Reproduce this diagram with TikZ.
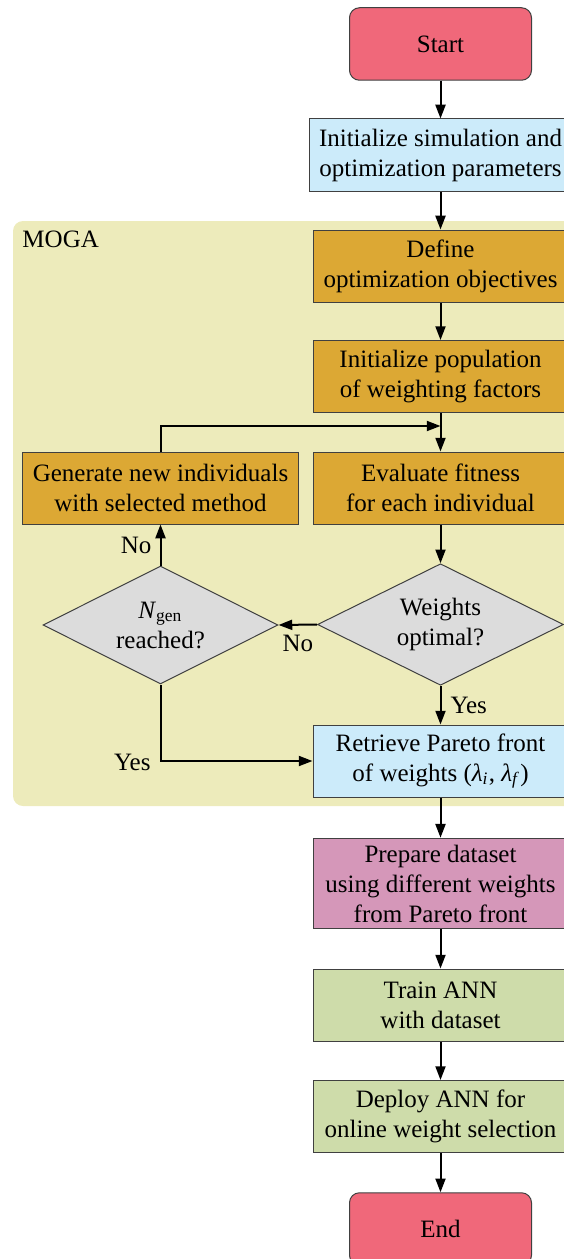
\documentclass[tikz,border=0pt]{standalone}
\usepackage{fontspec}
\setmainfont{Liberation Serif}
\usetikzlibrary{arrows.meta,shapes.geometric}
\definecolor{cstart}{HTML}{F0687A}
\definecolor{cblue}{HTML}{CCEBFA}
\definecolor{cmoga}{HTML}{EDEBBB}
\definecolor{corange}{HTML}{DCA834}
\definecolor{cgray}{HTML}{DCDCDC}
\definecolor{cpink}{HTML}{D597B9}
\definecolor{cgreen}{HTML}{CEDCAA}
\tikzset{
  base/.style={draw=black!75, line width=0.4pt, align=center, inner xsep=4pt, inner ysep=2.6pt},
  procbox/.style={base, rectangle, minimum width=102pt, minimum height=28.8pt},
  termbox/.style={base, rectangle, rounded corners=4pt, minimum width=72.8pt, minimum height=29pt, fill=cstart},
  decision/.style={base, diamond, aspect=2, inner sep=0pt},
  arr/.style={-{Triangle[length=5.5pt,width=4pt]}, line width=0.8pt},
  lbl/.style={inner sep=0pt}
}
\begin{document}
\begin{tikzpicture}[x=0.4pt,y=-0.4pt]
\useasboundingbox (0,0) rectangle (564,1259);
\clip (0,0) rectangle (564,1259);
% MOGA region
\fill[cmoga, rounded corners=4pt] (13,221) rectangle (620,806);
\node[lbl, anchor=base west] (moga) at (22,247) {MOGA};
% nodes
\node[termbox] (start) at (440.5,44) {Start};
\node[procbox, fill=cblue] (init) at (440.5,155) {Initialize simulation and\\optimization parameters};
\node[procbox, fill=corange] (define) at (440.5,266) {Define\\optimization objectives};
\node[procbox, fill=corange] (pop) at (440.5,376.5) {Initialize population\\of weighting factors};
\node[procbox, fill=corange] (eval) at (440.5,488) {Evaluate fitness\\for each individual};
\node[procbox, fill=corange] (gen) at (160.5,488) {Generate new individuals\\with selected method};
\node[decision, fill=cgray, minimum width=98.4pt, minimum height=48.6pt] (opt) at (440.5,624.5) {Weights\\optimal?};
\node[decision, fill=cgray, minimum width=94pt, minimum height=47.2pt] (ngen) at (160.5,625) {\textit{N}\textsubscript{gen}\\reached?};
\node[procbox, fill=cblue] (pareto) at (440.5,761) {Retrieve Pareto front\\of weights (\textit{λ}\textsubscript{\textit{i}}, \textit{λ}\textsubscript{\textit{f}})};
\node[procbox, fill=cpink] (prep) at (440.5,883.5) {Prepare dataset\\using different weights\\from Pareto front};
\node[procbox, fill=cgreen] (train) at (440.5,1005) {Train ANN\\with dataset};
\node[procbox, fill=cgreen] (deploy) at (440.5,1116.5) {Deploy ANN for\\online weight selection};
\node[termbox] (end) at (440.5,1229) {End};
\coordinate (merge) at (440.5,426);
% connectors
\draw[arr] (start) -- (init);
\draw[arr] (init) -- (define);
\draw[arr] (define) -- (pop);
\draw[arr] (pop) -- (eval);
\draw[arr] (gen.north) |- (merge);
\draw[arr] (eval) -- (opt);
\draw[arr] (opt.west) -- (ngen.east);
\draw[arr] (ngen.north) -- (gen.south);
\draw[arr] (opt.south) -- (pareto.north);
\draw[arr] (ngen.south) |- (pareto.west);
\draw[arr] (pareto) -- (prep);
\draw[arr] (prep) -- (train);
\draw[arr] (train) -- (deploy);
\draw[arr] (deploy) -- (end);
% labels
\node[lbl, anchor=base east] (lno1) at (152,553) {No};
\node[lbl, anchor=base west] (lno2) at (282,651) {No};
\node[lbl, anchor=base west] (lyes1) at (450,713) {Yes};
\node[lbl, anchor=base east] (lyes2) at (151,770) {Yes};
\end{tikzpicture}
\end{document}
